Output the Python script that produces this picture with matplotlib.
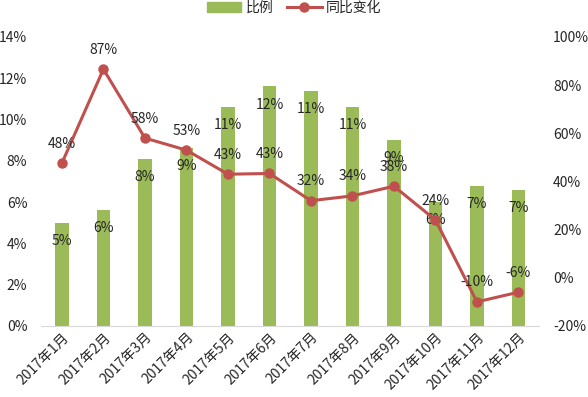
import matplotlib
matplotlib.use("Agg")
import matplotlib.pyplot as plt
from matplotlib.ticker import FuncFormatter, MultipleLocator
from matplotlib.lines import Line2D
from matplotlib.patches import Patch

plt.rcParams['font.family'] = ['Noto Sans CJK SC', 'DejaVu Sans']

months = ["2017年1月", "2017年2月", "2017年3月", "2017年4月", "2017年5月", "2017年6月",
          "2017年7月", "2017年8月", "2017年9月", "2017年10月", "2017年11月", "2017年12月"]
ratio = [5.0, 5.6, 8.1, 8.6, 10.6, 11.6, 11.4, 10.6, 9.0, 6.0, 6.8, 6.6]
yoy = [47.6, 86.6, 58.0, 53.0, 43.0, 43.3, 32.0, 34.0, 38.0, 24.0, -10.0, -6.0]

bar_color = "#9BBB59"
line_color = "#C0504D"
text_color = "#262626"

fig = plt.figure(figsize=(5.88, 3.97), dpi=100)
ax = fig.add_axes([0.07, 0.179, 0.847, 0.728])
x = list(range(len(months)))
ax.bar(x, ratio, width=0.32, color=bar_color, zorder=1)
ax.set_ylim(0, 14)
ax.set_xlim(-0.5, len(months) - 0.5)
ax.yaxis.set_major_locator(MultipleLocator(2))
ax.yaxis.set_major_formatter(FuncFormatter(lambda v, p: f"{v:.0f}%"))
for s in ["top", "left", "right"]:
    ax.spines[s].set_visible(False)
ax.spines["bottom"].set_color("#D9D9D9")
ax.tick_params(axis="y", length=0, labelsize=10, pad=10, labelcolor=text_color)
ax.tick_params(axis="x", length=0, labelsize=10, pad=3, labelcolor=text_color)
ax.set_xticks(x)
ax.set_xticklabels(months, rotation=45, ha="right", rotation_mode="anchor")

for xi, v in zip(x, ratio):
    ax.annotate(f"{v:.0f}%", (xi, v), xytext=(0, -13), textcoords="offset points",
                ha="center", va="center", fontsize=10, color=text_color, zorder=5)

ax2 = ax.twinx()
ax2.plot(x, yoy, color=line_color, lw=2.2, marker="o", markersize=6.5, zorder=3)
ax2.set_ylim(-20, 100)
ax2.yaxis.set_major_locator(MultipleLocator(20))
ax2.yaxis.set_major_formatter(FuncFormatter(lambda v, p: f"{v:.0f}%"))
for s in ["top", "left", "right", "bottom"]:
    ax2.spines[s].set_visible(False)
ax2.tick_params(axis="y", length=0, labelsize=10, pad=10, labelcolor=text_color)
for xi, v in zip(x, yoy):
    ax2.annotate(f"{v:.0f}%", (xi, v), xytext=(0, 14), textcoords="offset points",
                 ha="center", va="center", fontsize=10, color=text_color, zorder=5)

handles = [Patch(color=bar_color, label="比例"),
           Line2D([], [], color=line_color, lw=2.2, marker="o", markersize=6.5, label="同比变化")]
fig.legend(handles=handles, loc="upper center", bbox_to_anchor=(0.5, 1.012), ncol=2,
           frameon=False, fontsize=10, handlelength=2.5, columnspacing=1.0, handletextpad=0.3,
           labelcolor=text_color, borderaxespad=0.0)

fig.savefig("out.png", dpi=100)
